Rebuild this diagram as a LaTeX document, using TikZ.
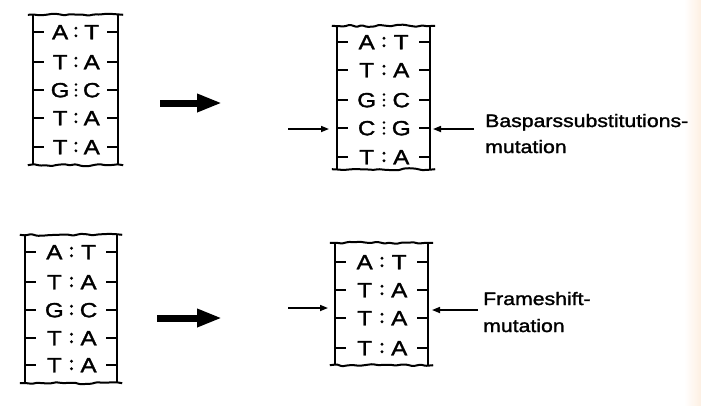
\documentclass[tikz,border=0pt]{standalone}
\usepackage{fontspec}
\setmainfont[FakeStretch=1.18,FakeBold=1.6]{Liberation Sans}
\usetikzlibrary{arrows.meta,calc,fit,decorations.pathmorphing}
\definecolor{peach}{RGB}{253,239,226}
\tikzset{
  side/.style={line width=2.4pt},
  wavy/.style={line width=2pt, decorate,
    decoration={random steps, segment length=6pt, amplitude=1.1pt}, rounded corners=1pt},
  tickln/.style={line width=1.8pt},
  letter/.style={inner sep=0pt, text height=14.5pt, text depth=0pt, font=\fontsize{20.5}{22}\selectfont},
  label/.style={inner sep=0pt, anchor=base west, font=\fontsize{18}{20}\selectfont},
  bigarrow/.style={line width=7pt, -{Triangle[length=25pt,width=17pt]}},
  smallarrow/.style={line width=1.6pt, -{Triangle[length=8pt,width=6pt]}},
  frame/.style={inner sep=0pt, draw=none}
}
\newcommand\dnaframe[5]{% name, x1, x2, ytop, ybot
  \coordinate (#1nw) at (#2,#4);
  \coordinate (#1se) at (#3,#5);
  \node[frame, fit=(#1nw)(#1se)] (#1) {};
  \draw[side] (#1.north west) -- (#1.south west);
  \draw[side] (#1.north east) -- (#1.south east);
  \draw[wavy] ([xshift=-5pt]#1.north west) -- ([xshift=5pt]#1.north east);
  \draw[wavy] ([xshift=-5pt]#1.south west) -- ([xshift=5pt]#1.south east);
}
\newcommand\bprow[6]{% box, id, y, L, R, dots
  \coordinate (#1w#2) at (#1.west |- 0,#3);
  \coordinate (#1e#2) at (#1.east |- 0,#3);
  \node[letter] (#1L#2) at ($(#1w#2)!0.32!(#1e#2)$) {#4};
  \node[letter] (#1R#2) at ($(#1w#2)!0.69!(#1e#2)$) {#5};
  \coordinate (#1c#2) at ($(#1L#2)!0.5!(#1R#2)$);
  \draw[tickln] (#1w#2) -- ++(11,0);
  \draw[tickln] (#1e#2) -- ++(-11,0);
  \ifnum#6=3
    \fill (#1c#2) ++(0,-5.5) circle (1.4);
    \fill (#1c#2) circle (1.4);
    \fill (#1c#2) ++(0,5.5) circle (1.4);
  \else
    \fill (#1c#2) ++(0,-3.8) circle (1.6);
    \fill (#1c#2) ++(0,3.8) circle (1.6);
  \fi
}
\begin{document}
\begin{tikzpicture}[x=1pt,y=-1pt]
\useasboundingbox (0,0) rectangle (701,405);
\shade[left color=white, right color=peach] (684,0) rectangle (701,405);
\pgfmathsetseed{7}
% top left
\dnaframe{ba}{33}{118}{15}{165}
\bprow{ba}{1}{32}{A}{T}{2}
\bprow{ba}{2}{62}{T}{A}{2}
\bprow{ba}{3}{90}{G}{C}{3}
\bprow{ba}{4}{118}{T}{A}{2}
\bprow{ba}{5}{147}{T}{A}{2}
% top right
\dnaframe{bb}{337}{430}{26}{169}
\bprow{bb}{1}{42}{A}{T}{2}
\bprow{bb}{2}{70}{T}{A}{2}
\bprow{bb}{3}{100}{G}{C}{3}
\bprow{bb}{4}{128}{C}{G}{3}
\bprow{bb}{5}{157}{T}{A}{2}
% bottom left
\dnaframe{bc}{25}{117}{235}{383}
\bprow{bc}{1}{252}{A}{T}{2}
\bprow{bc}{2}{282}{T}{A}{2}
\bprow{bc}{3}{310}{G}{C}{2}
\bprow{bc}{4}{338}{T}{A}{2}
\bprow{bc}{5}{365}{T}{A}{2}
% bottom right
\dnaframe{bd}{335}{428}{243}{365}
\bprow{bd}{1}{262}{A}{T}{2}
\bprow{bd}{2}{290}{T}{A}{2}
\bprow{bd}{3}{318}{T}{A}{2}
\bprow{bd}{4}{348}{T}{A}{2}
% big arrows
\coordinate (ta1) at (160,103);
\coordinate (ta2) at (222,103);
\draw[bigarrow] (ta1) -- (ta2);
\coordinate (tb1) at (157,318);
\coordinate (tb2) at (222,318);
\draw[bigarrow] (tb1) -- (tb2);
% small arrows
\coordinate (sa1) at (288,129);
\coordinate (sa2) at (329,129);
\draw[smallarrow] (sa1) -- (sa2);
\coordinate (sb1) at (474,129);
\coordinate (sb2) at (433,129);
\draw[smallarrow] (sb1) -- (sb2);
\coordinate (sc1) at (288,308);
\coordinate (sc2) at (328,308);
\draw[smallarrow] (sc1) -- (sc2);
\coordinate (sd1) at (478,310);
\coordinate (sd2) at (432,310);
\draw[smallarrow] (sd1) -- (sd2);
% labels
\node[label] (l1a) at (485,127) {Basparssubstitutions-};
\node[label] (l1b) at (485,153) {mutation};
\node[label] (l2a) at (483,305) {Frameshift-};
\node[label] (l2b) at (483,332) {mutation};
\end{tikzpicture}
\end{document}
